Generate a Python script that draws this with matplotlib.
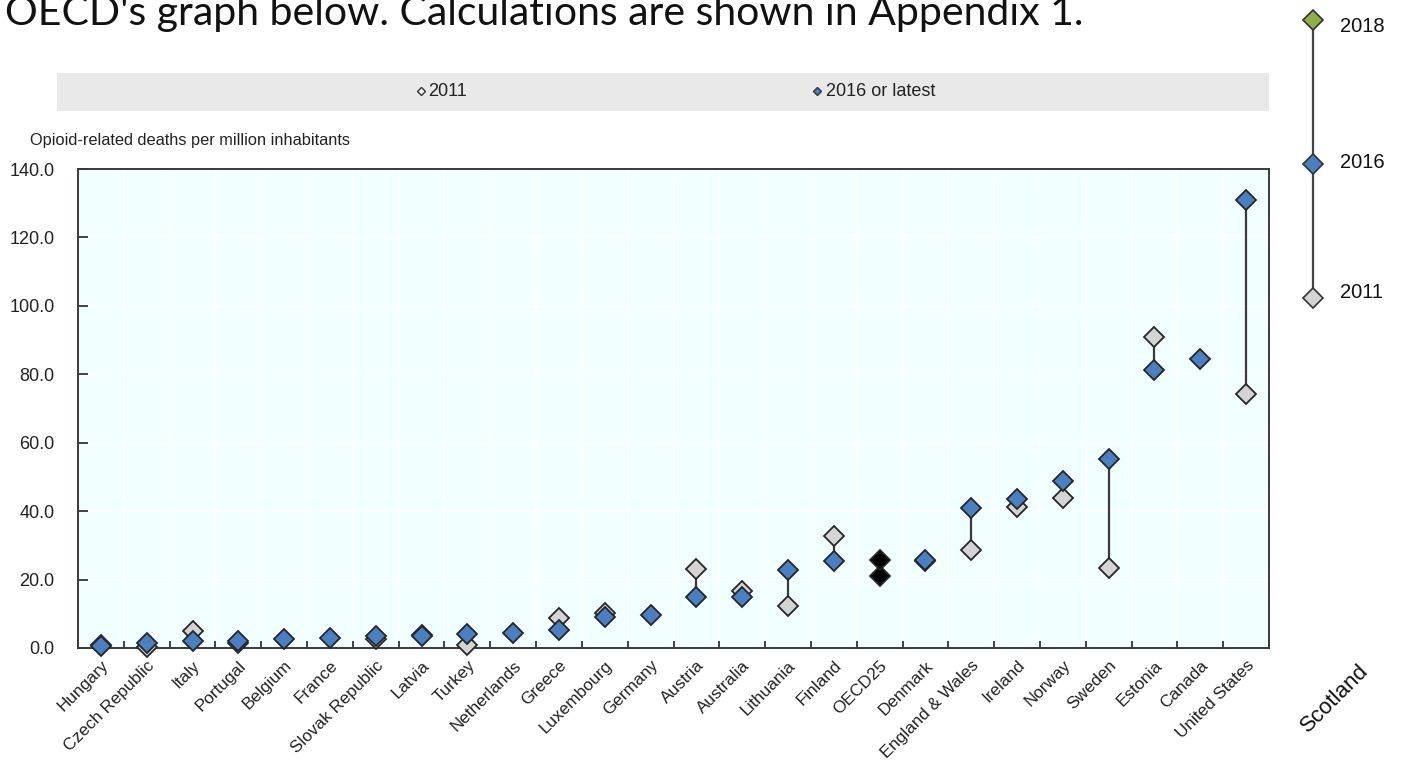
import numpy as np
import matplotlib
matplotlib.use("Agg")
import matplotlib.pyplot as plt
from matplotlib.lines import Line2D
from matplotlib.patches import Rectangle

nan = np.nan
countries = ["Hungary", "Czech Republic", "Italy", "Portugal", "Belgium", "France",
             "Slovak Republic", "Latvia", "Turkey", "Netherlands", "Greece", "Luxembourg",
             "Germany", "Austria", "Australia", "Lithuania", "Finland", "OECD25", "Denmark",
             "England & Wales", "Ireland", "Norway", "Sweden", "Estonia", "Canada",
             "United States"]
v2011 = [1.0, 0.4, 5.0, 1.4, nan, nan, 2.5, 3.8, 0.9, nan, 8.9, 10.2, nan, 23.1, 16.7,
         12.3, 32.7, 21.1, 25.5, 28.5, 41.1, 43.8, 23.5, 90.8, nan, 74.1]
v2016 = [0.6, 1.6, 2.0, 1.9, 2.5, 3.0, 3.5, 3.6, 4.0, 4.3, 5.3, 9.2, 9.7, 14.9, 14.9,
         22.7, 25.3, 25.8, 25.7, 40.8, 43.5, 48.9, 55.3, 81.3, 84.4, 130.8]
yticks = [0, 20, 40, 60, 80, 100, 120, 140]
legend_years = ["2018", "2016", "2011"]
extra_label = "Scotland"
title_text = "OECD's graph below. Calculations are shown in Appendix 1."
ylabel_text = "Opioid-related deaths per million inhabitants"

NARROW = ["Liberation Sans Narrow", "Liberation Sans", "DejaVu Sans"]
plt.rcParams["font.family"] = NARROW

BLUE = "#4A7FC1"
GRAY = "#D4D4D4"
GREEN = "#8DB04A"
EDGE = "#262626"
BG = "#F2FFFF"

W, H = 1405, 769
fig = plt.figure(figsize=(W / 100, H / 100), dpi=100)

def fx(px):
    return px / W

def fy(py):
    return 1 - py / H

ax = fig.add_axes([fx(78), fy(648), fx(1269) - fx(78), fy(169) - fy(648)])
ax.set_facecolor(BG)
x = np.arange(len(countries))

# connecting lines
for xi, a, b in zip(x, v2011, v2016):
    if not (np.isnan(a) or np.isnan(b)):
        ax.plot([xi, xi], [a, b], color="#3a3a3a", lw=1.6, zorder=3)

c11 = ["black" if c == "OECD25" else GRAY for c in countries]
c16 = ["black" if c == "OECD25" else BLUE for c in countries]
ms = 10
for xi, v, c in zip(x, v2011, c11):
    if not np.isnan(v):
        ax.plot(xi, v, marker="D", ms=ms, mfc=c, mec=EDGE, mew=1.3, ls="none",
                zorder=4, clip_on=False)
for xi, v, c in zip(x, v2016, c16):
    if not np.isnan(v):
        ax.plot(xi, v, marker="D", ms=ms, mfc=c, mec=EDGE, mew=1.3, ls="none",
                zorder=5, clip_on=False)

ax.set_xlim(-0.5, len(countries) - 0.5)
ax.set_ylim(0, 140)
ax.set_yticks(yticks)
ax.set_yticklabels([f"{t:.1f}" for t in yticks], fontsize=13, color="#222222")
ax.set_xticks(x)
ax.set_xticklabels(countries, rotation=45, ha="right", rotation_mode="anchor",
                   fontsize=12.3, color="#222222")
ax.set_xticks(np.arange(-0.5, len(countries)), minor=True)
ax.tick_params(axis="x", which="major", length=0, pad=7)
ax.tick_params(axis="x", which="minor", direction="in", length=5, width=1.3, color="#333333")
ax.tick_params(axis="y", direction="in", length=7, width=1.3, color="#333333", pad=17)
ax.grid(True, which="minor", axis="x", color="white", lw=1.2)
ax.grid(True, which="major", axis="y", color="white", lw=1.2)
ax.set_axisbelow(True)
for s in ax.spines.values():
    s.set_color("#3a3a3a")
    s.set_linewidth(1.4)

# y label on top
fig.text(fx(30), fy(140), ylabel_text, fontsize=11.8, ha="left", va="center",
         color="#222222")

# legend band
fig.patches.append(Rectangle((fx(57), fy(111)), fx(1269) - fx(57), fy(73) - fy(111),
                             transform=fig.transFigure, facecolor="#E9E9E9",
                             edgecolor="none", zorder=0))
fig.add_artist(Line2D([fx(421)], [fy(91)], marker="D", ms=4, mfc="white", mec="#333333",
                      mew=1.0, ls="none", transform=fig.transFigure))
fig.text(fx(428), fy(92), "2011", fontsize=13, ha="left", va="center", color="#222222")
fig.add_artist(Line2D([fx(817)], [fy(91)], marker="D", ms=4, mfc=BLUE, mec="#333333",
                      mew=1.0, ls="none", transform=fig.transFigure))
fig.text(fx(826), fy(92), "2016 or latest", fontsize=13, ha="left", va="center",
         color="#222222")

# right-hand timeline legend
lx = fx(1313)
ys = [fy(20), fy(164), fy(298)]
label_ys = [fy(27), fy(163), fy(292)]
cols = [GREEN, BLUE, GRAY]
fig.add_artist(Line2D([lx, lx], [ys[0], ys[2]], color="#444444", lw=1.6,
                      transform=fig.transFigure))
for yy, ly, cc, lab in zip(ys, label_ys, cols, legend_years):
    fig.add_artist(Line2D([lx], [yy], marker="D", ms=10, mfc=cc, mec="#333333", mew=1.2,
                          ls="none", transform=fig.transFigure))
    fig.text(fx(1340), ly, lab, fontsize=14.5, ha="left", va="center",
             family=["Liberation Sans", "DejaVu Sans"], color="#111111")

fig.text(fx(1335), fy(698), extra_label, fontsize=16, rotation=45, ha="center",
         va="center", family=["Liberation Sans", "DejaVu Sans"], color="#111111")

fig.text(fx(5), fy(25), title_text, fontsize=29.5, ha="left", va="baseline",
         family=["Lato", "DejaVu Sans"], color="#111111")

fig.savefig("out.png", dpi=100)
